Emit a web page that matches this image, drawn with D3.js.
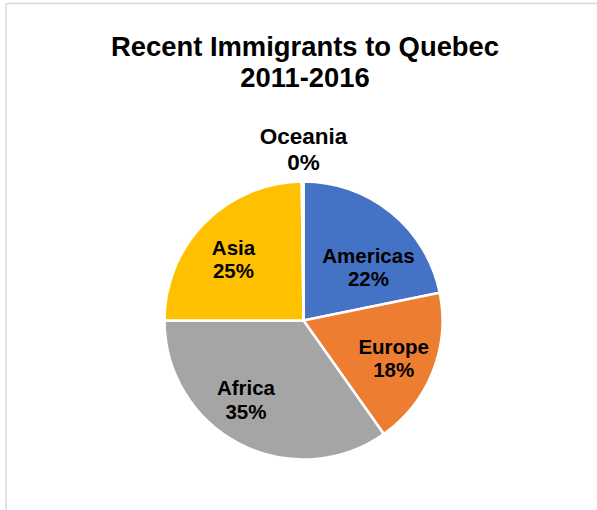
<!DOCTYPE html>
<html>
<head>
<meta charset="utf-8">
<script src="https://cdn.jsdelivr.net/npm/d3@7"></script>
<style>
  html, body { margin: 0; padding: 0; background: #fff; }
  svg { display: block; }
  text { font-family: "Liberation Sans", Arial, sans-serif; font-weight: bold; fill: #000; }
</style>
</head>
<body>
<svg id="chart" width="597" height="510"></svg>
<script>
const titleLines = ["Recent Immigrants to Quebec", "2011-2016"];
const categories = ["Americas", "Europe", "Africa", "Asia", "Oceania"];
const values = [21.8, 18.4, 34.8, 24.8, 0.2];
const pctLabels = ["22%", "18%", "35%", "25%", "0%"];
const colors = ["#4472C4", "#ED7D31", "#A5A5A5", "#FFC000", "#5B9BD5"];

const svg = d3.select("#chart");

// chart frame
svg.append("rect")
  .attr("x", 6).attr("y", 3.5).attr("width", 620).attr("height", 540)
  .attr("fill", "#fff").attr("stroke", "#d9d9d9").attr("stroke-width", 1.5);

// title
svg.append("text")
  .attr("text-anchor", "middle")
  .attr("font-size", 27.4)
  .selectAll("tspan").data(titleLines).join("tspan")
  .attr("x", 305)
  .attr("y", (d, i) => 55.5 + i * 31)
  .text(d => d);

const cx = 303.5, cy = 320.5, r = 139;
const data = categories.map((c, i) => ({ cat: c, value: values[i], pct: pctLabels[i], color: colors[i] }));

const pie = d3.pie().value(d => d.value).sort(null);
const arcs = pie(data);
const arc = d3.arc().innerRadius(0).outerRadius(r);

const g = svg.append("g").attr("transform", `translate(${cx},${cy})`);
g.selectAll("path").data(arcs).join("path")
  .attr("d", arc)
  .attr("fill", d => d.data.color)
  .attr("stroke", "#fff")
  .attr("stroke-width", 2.5)
  .attr("stroke-linejoin", "round");

// label layout: radial fraction of r and angular shift (degrees) from the slice mid-angle
const labelLayout = {
  Americas: { rf: 0.605, shift: 11.3, size: 20.5 },
  Europe:   { rf: 0.703, shift: 1.0,  size: 20.5 },
  Africa:   { rf: 0.705, shift: 8.6,  size: 20.5 },
  Asia:     { rf: 0.67,  shift: -3.4, size: 20.5 },
  Oceania:  { rf: 1.234, shift: null, size: 22.5 }
};

const labels = g.selectAll("text.lbl").data(arcs).join("text")
  .attr("class", "lbl")
  .attr("text-anchor", "middle");

labels.each(function(d) {
  const L = labelLayout[d.data.cat];
  const mid = (d.startAngle + d.endAngle) / 2;
  const a = L.shift === null ? 0 : mid + L.shift * Math.PI / 180;
  const rr = L.rf * r;
  const x = rr * Math.sin(a), y = -rr * Math.cos(a);
  const t = d3.select(this).attr("font-size", L.size);
  const k = L.size / 20.5;
  t.append("tspan").attr("x", x).attr("y", y - 4.5 * k).text(d.data.cat);
  t.append("tspan").attr("x", x).attr("y", y + 19 * k).text(d.data.pct);
});
</script>
</body>
</html>
